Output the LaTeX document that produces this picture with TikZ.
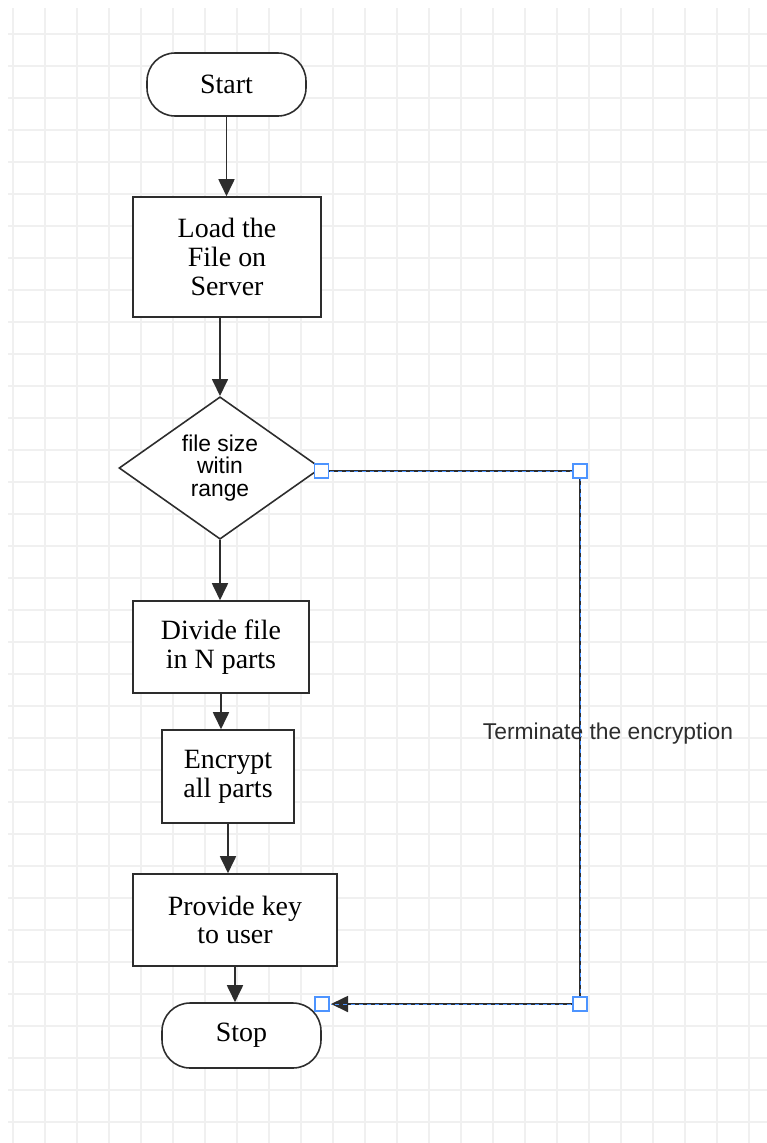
\documentclass[tikz,border=0pt]{standalone}
\usepackage{fontspec}
\setmainfont{Liberation Serif}
\newfontfamily\labelfont{Liberation Sans}
\usetikzlibrary{shapes.geometric, arrows.meta, calc}
\definecolor{linegray}{RGB}{45,45,45}
\definecolor{gridgray}{RGB}{240,240,240}
\definecolor{handleblue}{RGB}{77,148,255}

\begin{document}
\begin{tikzpicture}[
    x=0.02cm, y=-0.02cm,
    gridline/.style={gridgray, line width=0.9pt},
    termbox/.style={rectangle, rounded corners=0.56cm, draw=linegray, line width=0.9pt, fill=white, text centered, align=center, font=\fontsize{15.9pt}{16.4pt}\selectfont},
    stepbox/.style={rectangle, draw=linegray, line width=0.9pt, fill=white, text centered, align=center, font=\fontsize{15.9pt}{16.4pt}\selectfont},
    checkbox/.style={diamond, draw=linegray, line width=0.9pt, fill=white, inner sep=0pt, align=center, minimum width=4.04cm, minimum height=2.74cm, font=\labelfont\fontsize{13pt}{12.8pt}\selectfont},
    arrow/.style={-{Triangle[length=0.34cm, width=0.32cm]}, line width=1pt, linegray},
    selline/.style={handleblue, line width=0.5pt, dash pattern=on 0.08cm off 0.08cm},
    handle/.style={rectangle, draw=handleblue, fill=white, line width=0.7pt, minimum size=0.28cm, inner sep=0pt}
]

\useasboundingbox[fill=white] (0,0) rectangle (767,1143);

% grid
\foreach \i in {0,...,23} {
    \draw[gridline] ({13+32*\i},8) -- ({13+32*\i},1143);
}
\foreach \i in {0,...,34} {
    \draw[gridline] (8,{34+32*\i}) -- (767,{34+32*\i});
}

\node[termbox, minimum width=3.18cm, minimum height=1.26cm] (start) at (226.5,84.5) {Start};
\node[stepbox, minimum width=3.76cm, minimum height=2.4cm] (load) at (227,257) {Load the\\File on\\Server};
\node[checkbox] (dec) at (220,468) {file size\\witin\\range};
\node[stepbox, minimum width=3.52cm, minimum height=1.84cm] (div) at (221,647) {Divide file\\in N parts};
\node[stepbox, minimum width=2.64cm, minimum height=1.86cm] (enc) at (228,776.5) {Encrypt\\all parts};
\node[stepbox, minimum width=4.08cm, minimum height=1.84cm] (prov) at (235,920) {Provide key\\to user};
\node[termbox, minimum width=3.18cm, minimum height=1.3cm] (stop) at (241.5,1035.5) {Stop};

\draw[arrow] (start.south) -- (start.south |- load.north);
\draw[arrow] (load.south -| dec.north) -- (dec.north);
\draw[arrow] (dec.south) -- (dec.south |- div.north);
\draw[arrow] (div.south) -- (div.south |- enc.north);
\draw[arrow] (enc.south) -- (enc.south |- prov.north);
\draw[arrow] (prov.south) -- (prov.south |- stop.north);

% terminate branch
\coordinate (ltop) at (580,471);
\coordinate (lbot) at (580,1004);
\coordinate (stopin) at (331,1004);
\node[font=\labelfont\fontsize{13pt}{13pt}\selectfont, text=linegray] (term) at (608,734) {Terminate the encryption};
\draw[arrow] (dec.east |- ltop) -- (ltop) -- (lbot) -- (stopin);
\draw[selline] (dec.east |- ltop) -- (ltop) -- (lbot) -- (stopin);

\node[handle] (h1) at (dec.east |- ltop) {};
\node[handle] (h2) at (ltop) {};
\node[handle] (h3) at (lbot) {};
\node[handle] (h4) at (322,1004) {};

\end{tikzpicture}
\end{document}
